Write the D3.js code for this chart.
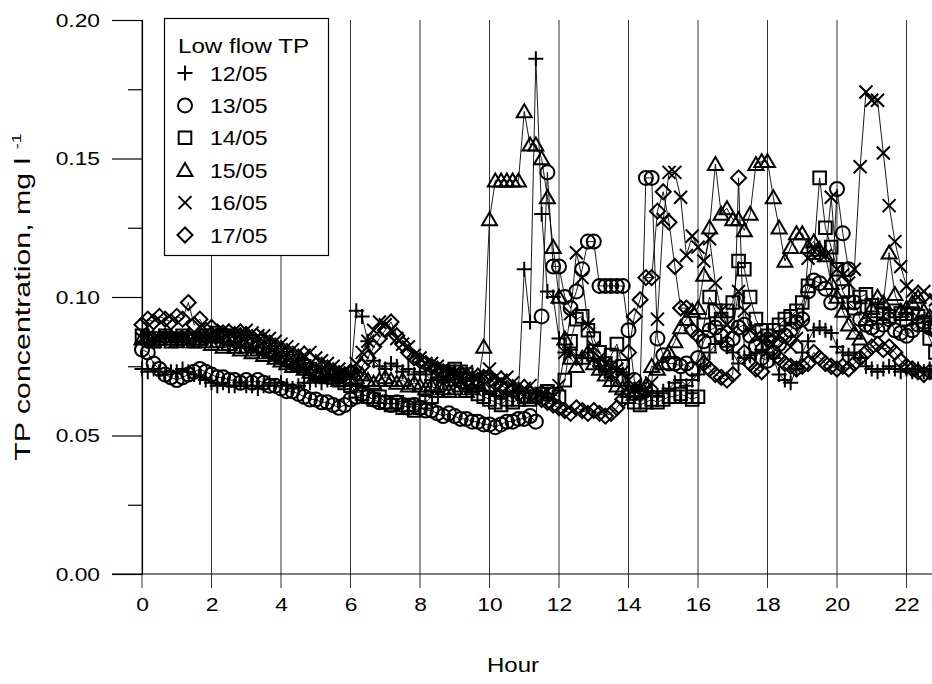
<!DOCTYPE html>
<html>
<head>
<meta charset="utf-8">
<script src="https://cdn.jsdelivr.net/npm/d3@7"></script>
<style>
  body { margin: 0; background: #fff; }
  svg { display: block; }
  text { font-family: "Liberation Sans", Arial, Helvetica, sans-serif; fill: #000; }
</style>
</head>
<body>
<svg id="chart" width="932" height="684"></svg>
<script>
// Axis ticks
const hourTicks = [0, 2, 4, 6, 8, 10, 12, 14, 16, 18, 20, 22];
const concTicks = [0, 0.05, 0.10, 0.15, 0.20];
const concMinorTicks = [0.025, 0.075, 0.125, 0.175];

// Series labels (sampling dates)
const dates = ["12/05", "13/05", "14/05", "15/05", "16/05", "17/05"];
const symbols = ["plus", "circle", "square", "triangle", "times", "diamond"];

// Total phosphorus, µg/l, one sample every 10 minutes from 00:00
const tp1205 = [
  74,73,74,73,72,73, 73,74,73,72,71,70, 69,68,69,68,68,69, 68,68,67,68,69,68,
  69,68,67,68,69,69, 70,69,70,71,72,71, 71,95,93,84,77,75, 74,76,75,73,74,72,
  73,72,70,71,69,70, 68,69,67,66,68,66, 65,66,64,65,66,66, 110,91,186,130,102,100,
  85,80,81,79,78,80, 77,75,73,71,74,72, 68,66,67,65,66,64, 66,67,69,70,68,70,
  72,75,80,83,84,82, 80,76,78,79,80,81, 80,78,72,70,69,74, 80,84,88,89,88,87,
  82,80,79,80,78,75, 74,73,74,75,74,73, 74,73,74,73,74,73
];
const tp1305 = [
  81,80,76,74,72,71, 70,71,72,73,74,73, 72,71,71,70,70,69, 70,69,70,69,68,68,
  67,66,66,65,64,63, 63,62,62,61,60,61, 63,64,65,64,63,62, 62,61,62,61,60,61,
  60,59,59,58,57,58, 57,56,56,55,55,54, 54,53,54,55,55,56, 56,57,55,93,145,111,
  111,100,96,102,110,120, 120,104,104,104,104,104, 88,70,66,143,143,85, 79,76,76,75,76,74,
  78,84,88,89,86,83, 85,89,90,86,82,78, 77,80,83,86,88,91, 92,102,106,105,103,98,
  139,123,110,98,92,90, 89,88,90,92,88,87, 86,88,90,91,89,88
];
const tp1405 = [
  86,85,84,85,86,84, 85,86,85,84,85,86, 86,87,86,85,86,85, 84,83,84,82,81,80,
  79,78,77,76,75,74, 73,72,72,71,70,69, 68,66,65,64,63,64, 62,61,62,60,61,59,
  60,62,64,68,72,73, 74,73,72,68,65,64, 63,62,61,63,62,63, 64,63,64,65,66,65,
  64,70,84,92,93,88, 85,80,76,79,83,75, 64,62,61,62,63,62, 63,64,64,65,64,63,
  64,90,100,95,92,95, 98,113,110,100,92,88, 86,88,90,92,93,95, 98,104,116,143,125,118,
  110,102,98,96,100,101, 97,95,94,93,95,94, 92,94,93,90,85,80
];
const tp1505 = [
  85,86,84,85,86,85, 84,85,86,84,85,84, 83,84,82,83,82,81, 82,80,81,79,80,78,
  77,76,75,76,74,73, 72,73,71,72,70,71, 70,71,72,70,69,70, 71,70,69,70,68,69,
  68,67,68,66,67,66, 67,68,66,67,69,82, 128,142,142,142,142,142, 167,155,155,150,136,118,
  100,85,78,75,78,80, 76,74,72,70,68,67, 66,65,66,68,75,74, 76,80,84,89,92,95,
  96,108,125,148,130,132, 128,128,124,130,148,149, 149,136,125,113,118,123, 123,118,120,117,115,105,
  100,95,90,87,85,92, 96,100,98,116,101,95, 96,98,100,95,93,92
];
const tp1605 = [
  85,86,84,85,86,85, 86,85,84,86,85,87, 86,87,88,87,88,87, 88,87,86,86,85,84,
  83,82,81,80,79,80, 78,77,76,75,74,73, 72,76,80,84,88,91, 90,88,85,83,82,79,
  78,76,76,75,74,73, 73,72,73,72,71,72, 74,71,70,71,69,68, 67,68,66,65,66,64,
  68,80,94,116,107,90, 82,78,76,75,74,73, 70,68,67,66,69,92, 128,145,145,136,115,122,
  118,113,121,105,95,90, 88,102,95,88,86,84, 85,83,86,84,82,85, 90,114,118,116,115,136,
  110,108,105,110,147,174, 171,171,152,133,120,111, 104,102,100,102,100,99
];
const tp1705 = [
  90,92,91,93,92,91, 93,92,98,90,92,88, 89,86,87,85,84,86, 84,83,82,81,80,79,
  78,77,76,75,76,74, 73,72,73,72,71,72, 73,72,75,78,82,85, 88,91,86,83,80,78,
  77,76,75,74,73,72, 71,72,70,69,70,71, 70,69,68,67,66,65, 64,65,64,63,62,61,
  60,59,58,60,59,58, 59,58,57,58,60,63, 80,93,99,107,107,131, 138,127,111,96,96,88,
  86,76,74,72,71,70, 72,143,80,76,74,73, 85,80,78,76,75,74, 75,76,80,78,76,75,
  74,75,74,76,78,80, 82,83,81,82,80,77, 75,74,73,72,73,72
];
const seriesValues = [tp1205, tp1305, tp1405, tp1505, tp1605, tp1705];
const sampleStepHours = 10 / 60;

const W = 932, H = 684;
const svg = d3.select("#chart");

const x = d3.scaleLinear().domain([0, 24]).range([142, 976]);
const y = d3.scaleLinear().domain([0, 0.20]).range([574, 20]);

// Horizontal widening of the wide sans face used for the labels
function widen(sel, k) {
  sel.each(function () {
    const t = d3.select(this);
    const tx = +t.attr("x") || 0, ty = +t.attr("y") || 0;
    t.attr("x", 0).attr("y", 0)
      .attr("transform", `translate(${tx},${ty}) scale(${k},1)`);
  });
}

// Vertical grid lines at every labelled hour, running through the axis as ticks
svg.append("g").selectAll("line").data(hourTicks).join("line")
  .attr("x1", d => x(d)).attr("x2", d => x(d))
  .attr("y1", y(0.20)).attr("y2", y(0) + 14)
  .attr("stroke", "#333").attr("stroke-width", 1);

// X axis
const xAxis = svg.append("g").attr("transform", `translate(0,${y(0)})`)
  .call(d3.axisBottom(x).tickValues(hourTicks).tickSize(0).tickPadding(24).tickFormat(d3.format("d")));
xAxis.select(".domain").remove();
xAxis.selectAll("text").style("font-size", "19px").style("font-family", null).call(widen, 1.2);
svg.append("line").attr("x1", 112).attr("x2", W).attr("y1", y(0)).attr("y2", y(0))
  .attr("stroke", "#000").attr("stroke-width", 1.2);

// Y axis with major and minor ticks
const yAxis = svg.append("g").attr("transform", `translate(${x(0)},0)`)
  .call(d3.axisLeft(y).tickValues(concTicks).tickSize(30).tickPadding(12).tickFormat(d3.format(".2f")));
yAxis.select(".domain").attr("stroke", "#000").attr("stroke-width", 1.2);
yAxis.selectAll(".tick line").attr("stroke", "#000").attr("stroke-width", 1.2);
yAxis.selectAll("text").style("font-size", "19px").style("font-family", null).call(widen, 1.2);
svg.append("g").attr("transform", `translate(${x(0)},0)`)
  .call(d3.axisLeft(y).tickValues(concMinorTicks).tickSize(14).tickFormat(""))
  .call(g => g.select(".domain").remove())
  .selectAll(".tick line").attr("stroke", "#000").attr("stroke-width", 1.2);

// Axis titles
svg.append("text").attr("x", 513).attr("y", 672)
  .attr("text-anchor", "middle").style("font-size", "20px").text("Hour")
  .call(widen, 1.2);
const yTitle = svg.append("text")
  .attr("transform", `translate(30,${y(0.10)}) rotate(-90) scale(1.38,1)`)
  .attr("text-anchor", "middle").style("font-size", "22px");
yTitle.append("tspan").text("TP concentration, mg l ");
yTitle.append("tspan").attr("dy", -9).style("font-size", "13px").text("-1");

// Marker outlines, r = half width in px
function markerPath(type, r) {
  const p = d3.path();
  switch (type) {
    case "plus":
      p.moveTo(-r, 0); p.lineTo(r, 0); p.moveTo(0, -r); p.lineTo(0, r); break;
    case "circle":
      p.moveTo(r, 0); p.arc(0, 0, r, 0, 2 * Math.PI); break;
    case "square":
      p.rect(-r, -r, 2 * r, 2 * r); break;
    case "triangle": {
      const h = r * Math.sqrt(3);
      p.moveTo(0, -h * 0.55); p.lineTo(r, h * 0.45); p.lineTo(-r, h * 0.45); p.closePath(); break;
    }
    case "times":
      p.moveTo(-r, -r); p.lineTo(r, r); p.moveTo(r, -r); p.lineTo(-r, r); break;
    case "diamond":
      p.moveTo(0, -r); p.lineTo(r, 0); p.lineTo(0, r); p.lineTo(-r, 0); p.closePath(); break;
  }
  return p.toString();
}
const markerR = { plus: 7.5, circle: 7, square: 6.3, triangle: 7.5, times: 6.5, diamond: 7.5 };

const plot = svg.append("g");
const line = d3.line().x(d => x(d.h)).y(d => y(d.v));

seriesValues.forEach((vals, s) => {
  const pts = vals.map((v, i) => ({ h: i * sampleStepHours, v: v / 1000 }));
  const g = plot.append("g");
  g.append("path").datum(pts).attr("d", line)
    .attr("fill", "none").attr("stroke", "#000").attr("stroke-width", 0.9);
  g.selectAll("path.m").data(pts).join("path").attr("class", "m")
    .attr("transform", d => `translate(${x(d.h)},${y(d.v)})`)
    .attr("d", markerPath(symbols[s], markerR[symbols[s]]))
    .attr("fill", "none").attr("stroke", "#000").attr("stroke-width", 2);
});

// Legend
const lg = svg.append("g");
lg.append("rect").attr("x", 164.5).attr("y", 18.5).attr("width", 164).attr("height", 237)
  .attr("fill", "#fff").attr("stroke", "#000").attr("stroke-width", 1.2);
lg.append("text").attr("x", 178).attr("y", 53).style("font-size", "21px")
  .text("Low flow TP").call(widen, 1.15);
dates.forEach((d, i) => {
  const cy = 73 + i * 32.4;
  lg.append("path").attr("transform", `translate(185,${cy})`)
    .attr("d", markerPath(symbols[i], markerR[symbols[i]]))
    .attr("fill", "none").attr("stroke", "#000").attr("stroke-width", 2);
  lg.append("text").attr("x", 210).attr("y", cy + 7.5).style("font-size", "20px")
    .text(d).call(widen, 1.15);
});
</script>
</body>
</html>
